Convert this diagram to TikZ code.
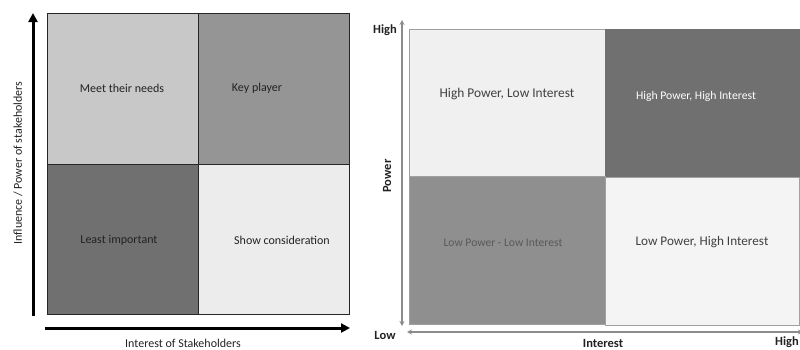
\documentclass[tikz,border=0pt]{standalone}
\usepackage{fontspec}
\setmainfont{Carlito}
\usetikzlibrary{arrows.meta}
\definecolor{ctl}{HTML}{C8C8C8}
\definecolor{ctr}{HTML}{959595}
\definecolor{cbl}{HTML}{707070}
\definecolor{cbr}{HTML}{ECECEC}
\definecolor{rtl}{HTML}{F0F0F0}
\definecolor{rtr}{HTML}{707070}
\definecolor{rbl}{HTML}{8F8F8F}
\definecolor{rbr}{HTML}{F4F4F4}
\definecolor{rline}{HTML}{A0A0A0}
\definecolor{txt}{HTML}{222222}
\tikzset{
  lcell/.style={draw=black!85, line width=0.6pt, inner sep=0pt, anchor=north west},
  rcell/.style={draw=rline, line width=0.8pt, inner sep=0pt, anchor=north west},
  lab/.style={font=\fontsize{12}{14}\selectfont, text=txt},
  axlab/.style={font=\fontsize{12}{14}\selectfont, text=txt},
  bigarrow/.style={line width=3pt, -{Triangle[length=9pt,width=9pt]}},
  thinarrow/.style={draw=gray!90, line width=1.2pt, {Stealth[length=5pt,width=5pt]}-{Stealth[length=5pt,width=5pt]}},
  blab/.style={font=\bfseries\fontsize{12.5}{14}\selectfont, text=txt}
}
\begin{document}
\begin{tikzpicture}[x=1pt,y=-1pt]
\useasboundingbox (0,0) rectangle (800,349);
% ---------- left panel ----------
\node[lcell, fill=ctl, minimum width=151pt, minimum height=151pt] (ltl) at (47,13) {};
\node[lcell, fill=ctr, minimum width=151pt, minimum height=151pt] (ltr) at (198,13) {};
\node[lcell, fill=cbl, minimum width=151pt, minimum height=150pt] (lbl) at (47,164) {};
\node[lcell, fill=cbr, minimum width=151pt, minimum height=150pt] (lbr) at (198,164) {};
\node[lab] (t1) at (122,88) {Meet their needs};
\node[lab] (t2) at (257,88) {Key player};
\node[lab] (t3) at (119,240) {Least important};
\node[lab] (t4) at (282,240) {Show consideration};
\coordinate (va) at (33,316);
\coordinate (vb) at (33,13);
\coordinate (ha) at (45,328);
\coordinate (hb) at (350,328);
\draw[bigarrow] (va) -- (vb);
\draw[bigarrow] (ha) -- (hb);
\node[axlab, rotate=90] (yl) at (18,163) {Influence / Power of stakeholders};
\node[axlab] (xl) at (183,343) {Interest of Stakeholders};
% ---------- right panel ----------
\node[rcell, fill=rtl, minimum width=196pt, minimum height=147pt] (rtlc) at (409,29) {};
\node[rcell, fill=rtr, draw=rtr, minimum width=194pt, minimum height=148pt] (rtrc) at (605,29) {};
\node[rcell, fill=rbl, minimum width=196pt, minimum height=148pt] (rblc) at (409,176) {};
\node[rcell, fill=rbr, minimum width=194pt, minimum height=148pt] (rbrc) at (605,177) {};
\node[font=\fontsize{13.4}{15}\selectfont, text=black!75] (s1) at (507,94) {High Power, Low Interest};
\node[font=\fontsize{11.7}{13}\selectfont, text=white] (s2) at (696,96) {High Power, High Interest};
\node[font=\fontsize{11.6}{13}\selectfont, text=black!65] (s3) at (503,243) {Low Power - Low Interest};
\node[font=\fontsize{13.2}{15}\selectfont, text=black!75] (s4) at (702,242) {Low Power, High Interest};
\coordinate (pa) at (402,20);
\coordinate (pb) at (402,326);
\coordinate (ia) at (407,332);
\coordinate (ib) at (803,332);
\draw[thinarrow] (pa) -- (pb);
\draw[thinarrow] (ia) -- (ib);
\node[blab] (hi1) at (385,30) {High};
\node[blab] (lo1) at (385,335) {Low};
\node[blab] (pw) at (387,176) [rotate=90] {Power};
\node[blab] (in) at (603,343) {Interest};
\node[blab, anchor=east, inner sep=1pt] (hi2) at (800,342) {High};
\end{tikzpicture}
\end{document}
